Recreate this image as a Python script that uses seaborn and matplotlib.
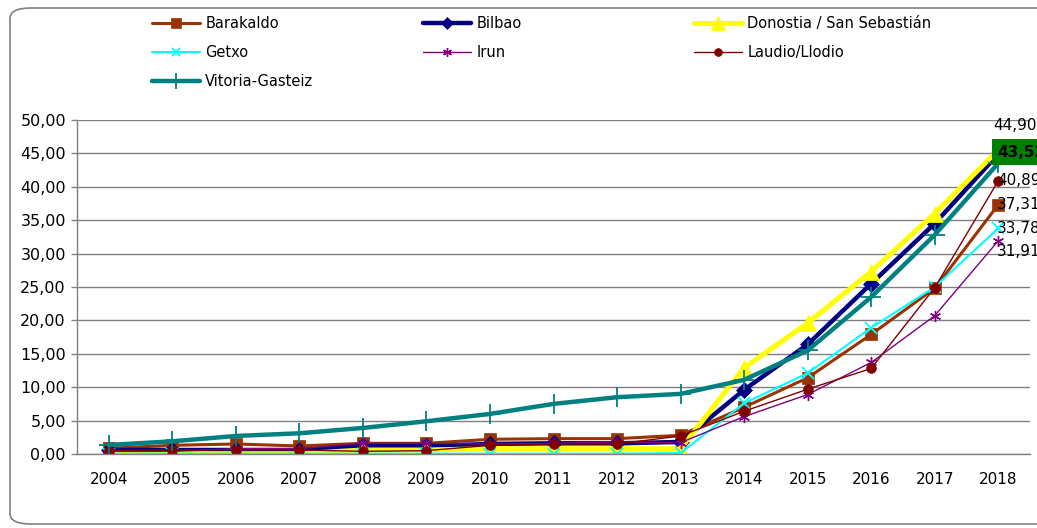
import matplotlib
matplotlib.use("Agg")
import matplotlib.pyplot as plt
from matplotlib.patches import FancyBboxPatch
from matplotlib.ticker import FuncFormatter, FixedLocator
import seaborn as sns
import numpy as np

# data
years = list(range(2004, 2019))
barakaldo = [0.85, 1.3, 1.5, 1.2, 1.6, 1.6, 2.2, 2.3, 2.3, 2.8, 7.0, 11.4, 17.9, 24.8, 37.31]
bilbao = [0.6, 0.6, 0.6, 0.6, 1.2, 1.2, 1.5, 1.6, 1.6, 1.8, 9.6, 16.4, 25.5, 34.5, 44.90]
donostia = [0.05, 0.05, 0.05, 0.05, 0.6, 0.6, 0.8, 0.8, 0.8, 0.8, 12.9, 19.6, 27.3, 36.0, 45.5]
getxo = [0.05, 0.05, 0.05, 0.05, 0.05, 0.05, 0.05, 0.05, 0.05, 0.15, 7.6, 12.1, 18.9, 25.0, 33.78]
irun = [0.4, 0.4, 0.8, 0.8, 1.6, 1.6, 1.5, 1.6, 1.8, 1.7, 5.6, 8.9, 13.7, 20.7, 31.91]
laudio = [0.5, 0.6, 0.6, 0.6, 0.4, 0.5, 1.3, 1.5, 1.5, 2.7, 6.4, 9.7, 12.8, 24.9, 40.89]
vitoria = [1.35, 1.9, 2.7, 3.1, 3.9, 4.9, 6.0, 7.5, 8.5, 9.0, 11.1, 15.5, 23.5, 32.8, 43.52]

names = ["Barakaldo", "Bilbao", "Donostia / San Sebastián", "Getxo", "Irun",
         "Laudio/Llodio", "Vitoria-Gasteiz"]
series = [barakaldo, bilbao, donostia, getxo, irun, laudio, vitoria]

styles = {
    "Barakaldo": dict(color="#993300", marker="s", lw=2.2, ms=9, mew=0.5),
    "Bilbao": dict(color="#000080", marker="D", lw=3.2, ms=8, mew=0.5),
    "Donostia / San Sebastián": dict(color="#FFFF00", marker="^", lw=3.6, ms=12, mew=0.5),
    "Getxo": dict(color="#00FFFF", marker="x", lw=1.5, ms=8, mew=1.3),
    "Irun": dict(color="#800080", marker=(6, 2, 0), lw=1.0, ms=8, mew=1.0),
    "Laudio/Llodio": dict(color="#800000", marker="o", lw=1.0, ms=7, mew=0.5),
    "Vitoria-Gasteiz": dict(color="#008080", marker="+", lw=3.2, ms=15, mew=1.3),
}

sns.set_theme(style="white")
plt.rcParams["font.family"] = ["DejaVu Sans"]
plt.rcParams["text.color"] = "black"
plt.rcParams["xtick.color"] = "black"
plt.rcParams["ytick.color"] = "black"

fig = plt.figure(figsize=(10.37, 5.28), dpi=100)
ax = fig.add_axes([77 / 1037, 74 / 528, 953 / 1037, 334 / 528])

handles = {}
for name, vals in zip(names, series):
    st = styles[name]
    sns.lineplot(x=years, y=vals, ax=ax, color=st["color"], linewidth=st["lw"],
                 marker=st["marker"], markersize=st["ms"], markeredgewidth=st["mew"],
                 markeredgecolor=st["color"], markerfacecolor=st["color"],
                 label=name, legend=False)
    handles[name] = ax.lines[-1]

ax.set_xlim(2003.5, 2018.5)
ax.set_ylim(0, 50)
ax.set_yticks(np.arange(0, 51, 5))
ax.yaxis.set_major_formatter(FuncFormatter(lambda v, p: f"{v:.2f}".replace(".", ",")))
ax.set_xticks(years)
ax.set_xticklabels([str(y) for y in years])
ax.xaxis.set_minor_locator(FixedLocator(np.arange(2003.5, 2019, 1)))
ax.tick_params(axis="x", which="major", length=0, pad=13, labelsize=11, labelcolor="black")
ax.tick_params(axis="x", which="minor", length=5, width=1, color="#808080", direction="out")
ax.tick_params(axis="y", which="major", length=4, width=1, color="#808080", direction="out",
               labelsize=11.5, pad=4, left=True, labelcolor="black")
ax.grid(axis="y", color="#808080", linewidth=1)
ax.set_axisbelow(True)
for side in ["top", "right"]:
    ax.spines[side].set_visible(False)
for side in ["left", "bottom"]:
    ax.spines[side].set_color("#808080")
    ax.spines[side].set_linewidth(1)
ax.set_xlabel("")
ax.set_ylabel("")

# data labels at 2018
def lab(v):
    return f"{v:.2f}".replace(".", ",")

ax.annotate(lab(bilbao[-1]), (2018, bilbao[-1]), xytext=(-5, 29), textcoords="offset pixels",
            fontsize=11, va="center", ha="left", annotation_clip=False)
ax.annotate(lab(vitoria[-1]), (2018, vitoria[-1]), xytext=(-1, 11), textcoords="offset pixels",
            fontsize=11, fontweight="bold", va="center", ha="left", annotation_clip=False,
            bbox=dict(boxstyle="square,pad=0.35", facecolor="#008000", edgecolor="none"))
ax.annotate(lab(laudio[-1]), (2018, laudio[-1]), xytext=(-1, 0), textcoords="offset pixels",
            fontsize=11, va="center", ha="left", annotation_clip=False)
ax.annotate(lab(barakaldo[-1]), (2018, barakaldo[-1]), xytext=(-1, 0), textcoords="offset pixels",
            fontsize=11, va="center", ha="left", annotation_clip=False)
ax.annotate(lab(getxo[-1]), (2018, getxo[-1]), xytext=(-1, 0), textcoords="offset pixels",
            fontsize=11, va="center", ha="left", annotation_clip=False)
ax.annotate(lab(irun[-1]), (2018, irun[-1]), xytext=(-1, -11), textcoords="offset pixels",
            fontsize=11, va="center", ha="left", annotation_clip=False)

# legend, three columns
cols = [["Barakaldo", "Getxo", "Vitoria-Gasteiz"],
        ["Bilbao", "Irun"],
        ["Donostia / San Sebastián", "Laudio/Llodio"]]
xs = [152, 423, 694]
for col, x0 in zip(cols, xs):
    leg = fig.legend([handles[n] for n in col], col, loc="upper left",
                     bbox_to_anchor=(x0 / 1037, 1 - 16 / 528), frameon=False,
                     fontsize=10.5, handlelength=3.3, handletextpad=0.35,
                     labelspacing=0.95, borderpad=0, borderaxespad=0, markerscale=0.8)

# rounded frame
frame = FancyBboxPatch((10 / 1037, 4 / 528), 1.1, 516 / 528,
                       boxstyle="round,pad=0,rounding_size=0.02",
                       transform=fig.transFigure, facecolor="none",
                       edgecolor="#808080", linewidth=1.2, clip_on=False)
fig.patches.append(frame)

fig.savefig("out.png", dpi=100)
